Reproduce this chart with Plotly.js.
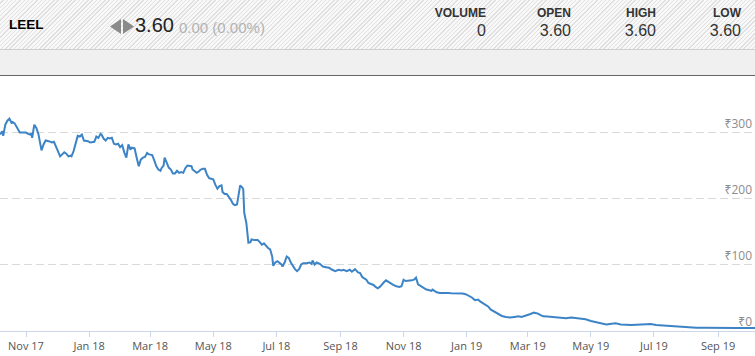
<!DOCTYPE html>
<html>
<head>
<meta charset="utf-8">
<script src="https://cdn.plot.ly/plotly-3.0.1.min.js"></script>
<style>
  html, body { margin:0; padding:0; width:755px; height:356px; overflow:hidden; background:#fff; }
  #hdr { position:absolute; left:0; top:0; width:755px; height:49px;
         background: repeating-linear-gradient(135deg, #f8f8f8 0px, #f8f8f8 2px, #e0e0e0 2px, #e0e0e0 3px);
         border-bottom:1px solid #cfcfcf; font-family:"Liberation Sans", Arial, sans-serif; }
  #band { position:absolute; left:0; top:50px; width:755px; height:25px; background:#f0f0f0; border-bottom:1px solid #666; }
  .t { position:absolute; white-space:nowrap; }
  .lab { font-family:"Liberation Sans Narrow","Liberation Sans",Arial,sans-serif; font-weight:bold; font-size:12px; color:#333; text-align:right; }
  .val { font-size:16px; color:#333; text-align:right; }
  #chart { position:absolute; left:0; top:76px; width:755px; height:280px; }
</style>
</head>
<body>
<div id="hdr">
  <div class="t" style="left:9px; top:17px; font-weight:bold; font-size:13.5px; color:#000;">LEEL</div>
  <svg class="t" style="left:110px; top:19px;" width="24" height="15" viewBox="0 0 24 15">
    <polygon points="0,7.5 11,0 11,15" fill="#8a8a8a"/>
    <polygon points="13,0 24,7.5 13,15" fill="#8a8a8a"/>
  </svg>
  <div class="t" style="left:135px; top:14px; font-size:20px; color:#222;">3.60</div>
  <div class="t" style="left:179px; top:19px; font-size:15px; color:#b3b3b3;">0.00 (0.00%)</div>

  <div class="t lab" style="right:269px; top:6px;">VOLUME</div>
  <div class="t val" style="right:269px; top:22px;">0</div>
  <div class="t lab" style="right:184px; top:6px;">OPEN</div>
  <div class="t val" style="right:184px; top:22px;">3.60</div>
  <div class="t lab" style="right:99px; top:6px;">HIGH</div>
  <div class="t val" style="right:99px; top:22px;">3.60</div>
  <div class="t lab" style="right:14px; top:6px;">LOW</div>
  <div class="t val" style="right:14px; top:22px;">3.60</div>
</div>
<div id="band"></div>
<div id="chart"></div>
<script>
const dates = [
 '2017-10-07','2017-10-09','2017-10-10','2017-10-12','2017-10-14','2017-10-16','2017-10-18','2017-10-19','2017-10-21','2017-10-23',
 '2017-10-26','2017-10-29','2017-11-01','2017-11-03','2017-11-05','2017-11-06','2017-11-07','2017-11-09','2017-11-11','2017-11-13',
 '2017-11-15','2017-11-16','2017-11-18','2017-11-20','2017-11-23','2017-11-26','2017-11-28','2017-11-30','2017-12-02','2017-12-04',
 '2017-12-06','2017-12-08','2017-12-10','2017-12-12','2017-12-14','2017-12-15','2017-12-17','2017-12-19','2017-12-21','2017-12-23',
 '2017-12-25','2017-12-27','2017-12-29','2017-12-31','2018-01-02','2018-01-04','2018-01-06','2018-01-08','2018-01-10','2018-01-12',
 '2018-01-13','2018-01-15','2018-01-17','2018-01-19','2018-01-21','2018-01-23','2018-01-25','2018-01-27','2018-01-29','2018-01-31',
 '2018-02-02','2018-02-04','2018-02-06','2018-02-08','2018-02-10','2018-02-11','2018-02-14','2018-02-16','2018-02-18','2018-02-20',
 '2018-02-22','2018-02-24','2018-02-26','2018-02-28','2018-03-03','2018-03-05','2018-03-07','2018-03-09','2018-03-11','2018-03-12',
 '2018-03-14','2018-03-15','2018-03-17','2018-03-19','2018-03-21','2018-03-23','2018-03-25','2018-03-27','2018-03-29','2018-03-31',
 '2018-04-02','2018-04-04','2018-04-06','2018-04-08','2018-04-10','2018-04-11','2018-04-13','2018-04-15','2018-04-17','2018-04-19',
 '2018-04-21','2018-04-23','2018-04-25','2018-04-27','2018-04-29','2018-05-01','2018-05-03','2018-05-05','2018-05-07','2018-05-09',
 '2018-05-10','2018-05-12','2018-05-14','2018-05-16','2018-05-18','2018-05-20','2018-05-22','2018-05-24','2018-05-26','2018-05-27',
 '2018-05-29','2018-05-30','2018-05-31','2018-06-02','2018-06-03','2018-06-04','2018-06-06','2018-06-07','2018-06-10','2018-06-13',
 '2018-06-15','2018-06-17','2018-06-19','2018-06-21','2018-06-23','2018-06-25','2018-06-27','2018-06-28','2018-06-30','2018-07-02',
 '2018-07-04','2018-07-06','2018-07-07','2018-07-09','2018-07-11','2018-07-13','2018-07-15','2018-07-17','2018-07-19','2018-07-21',
 '2018-07-23','2018-07-25','2018-07-27','2018-07-30','2018-08-02','2018-08-04','2018-08-05','2018-08-07','2018-08-09','2018-08-12',
 '2018-08-15','2018-08-18','2018-08-21','2018-08-24','2018-08-27','2018-08-30','2018-09-02','2018-09-04','2018-09-07','2018-09-10',
 '2018-09-12','2018-09-15','2018-09-18','2018-09-20','2018-09-22','2018-09-24','2018-09-26','2018-09-28','2018-09-30','2018-10-01',
 '2018-10-03','2018-10-05','2018-10-07','2018-10-09','2018-10-11','2018-10-13','2018-10-15','2018-10-17','2018-10-19','2018-10-22',
 '2018-10-25','2018-10-28','2018-10-30','2018-10-31','2018-11-01','2018-11-03','2018-11-05','2018-11-07','2018-11-09','2018-11-11',
 '2018-11-13','2018-11-15','2018-11-17','2018-11-20','2018-11-23','2018-11-26','2018-11-28','2018-11-29','2018-12-01','2018-12-03',
 '2018-12-06','2018-12-09','2018-12-12','2018-12-14','2018-12-17','2018-12-20','2018-12-23','2018-12-26','2018-12-28','2018-12-31',
 '2019-01-03','2019-01-06','2019-01-09','2019-01-12','2019-01-14','2019-01-16','2019-01-18','2019-01-20','2019-01-22','2019-01-24',
 '2019-01-26','2019-01-29','2019-02-01','2019-02-04','2019-02-08','2019-02-12','2019-02-16','2019-02-20','2019-02-23','2019-02-27',
 '2019-03-03','2019-03-07','2019-03-11','2019-03-13','2019-03-16','2019-03-20','2019-03-24','2019-03-28','2019-04-02','2019-04-07',
 '2019-04-12','2019-04-17','2019-04-22','2019-04-26','2019-05-01','2019-05-06','2019-05-11','2019-05-16','2019-05-21','2019-05-25',
 '2019-05-30','2019-06-04','2019-06-09','2019-06-14','2019-06-19','2019-06-23','2019-06-28','2019-07-03','2019-07-08','2019-07-13',
 '2019-07-18','2019-07-22','2019-07-27','2019-08-01','2019-08-06','2019-08-11','2019-08-20','2019-08-30','2019-09-09','2019-09-18',
 '2019-09-28','2019-10-07'
];
const prices = [
 297,302,295,312,318,321,315,316,314,309,
 300,300,300,298,297,299,292,312,307,298,
 276,273,282,288,287,285,286,279,273,264,
 267,270,268,264,265,264,272,285,295,294,
 297,288,288,287,285,286,286,294,292,298,
 297,291,288,292,291,292,283,282,283,278,
 281,270,262,282,274,277,276,262,249,259,
 262,263,269,267,266,258,249,244,242,246,
 250,262,254,247,244,238,238,242,239,240,
 239,246,250,249,249,244,241,239,241,244,
 245,245,236,231,230,229,221,215,219,220,
 210,207,207,203,198,192,190,191,214,220,
 217,214,178,163,148,133,134,138,137,137,
 134,130,132,128,125,123,112,98,103,105,
 103,100,97,103,112,110,103,97,93,90,
 93,100,102,102,103,101,106,100,103,101,
 97,96,95,92,90,92,91,92,90,92,
 89,93,88,87,81,79,77,72,71,70,
 69,66,64,66,70,73,76,74,71,69,
 67,66,67,71,77,75,75,76,76,77,
 80,70,68,65,62,61,60,62,60,58,
 57,57,58,57,56.5,56.5,56.5,56.5,56,55,
 53,50,46,47,44,42,40,38,36,32,
 30,27.5,24,22,20.5,19.5,20.5,21.5,20.5,22,
 24.6,27,25.6,23.6,21.5,21,20.5,19.5,18.5,18.5,
 19.5,18.5,17,17,14.4,12.8,11.3,9.2,10.3,10.8,
 9.2,8.2,8.2,8.7,9.2,10.3,9.7,8.2,7.7,6.7,
 6.2,5.6,5.1,4.6,4.1,4.1,4.1,3.6,3.6,3.6,
 3.6,3.6
];
const yTickVals = [0, 100, 200, 300];
const yTickText = ['₹0', '₹100', '₹200', '₹300'];

const trace = {
  x: dates, y: prices, type: 'scatter', mode: 'lines',
  line: { color: '#3d84c6', width: 2 }, hoverinfo: 'skip'
};
const layout = {
  width: 755, height: 280,
  margin: { l: 0, r: 0, t: 0, b: 25 },
  paper_bgcolor: 'rgba(0,0,0,0)', plot_bgcolor: 'rgba(0,0,0,0)',
  showlegend: false,
  xaxis: {
    type: 'date', range: ['2017-10-06 20:53', '2019-10-06 16:48'],
    tick0: '2017-11-01', dtick: 'M2', tickformat: '%b %y',
    ticks: 'outside', ticklen: 5, tickcolor: '#ccd6eb', tickwidth: 1,
    showgrid: false, showline: true, linecolor: '#ccd6eb', linewidth: 1, zeroline: false,
    tickfont: { family: '"Open Sans", "DejaVu Sans", sans-serif', size: 11, color: '#555' }
  },
  yaxis: {
    range: [-0.8, 385.8], side: 'right',
    tickmode: 'array', tickvals: yTickVals, ticktext: yTickText,
    ticklabelposition: 'inside top', ticks: '',
    showgrid: true, gridcolor: '#d9d9d9', gridwidth: 1.5, griddash: '8px,4px',
    zeroline: false, showline: false,
    tickfont: { family: '"Open Sans", "Noto Sans", "DejaVu Sans", sans-serif', size: 12, color: '#8c8c8c' }
  }
};
Plotly.newPlot('chart', [trace], layout, { staticPlot: true, displayModeBar: false });
</script>
</body>
</html>
